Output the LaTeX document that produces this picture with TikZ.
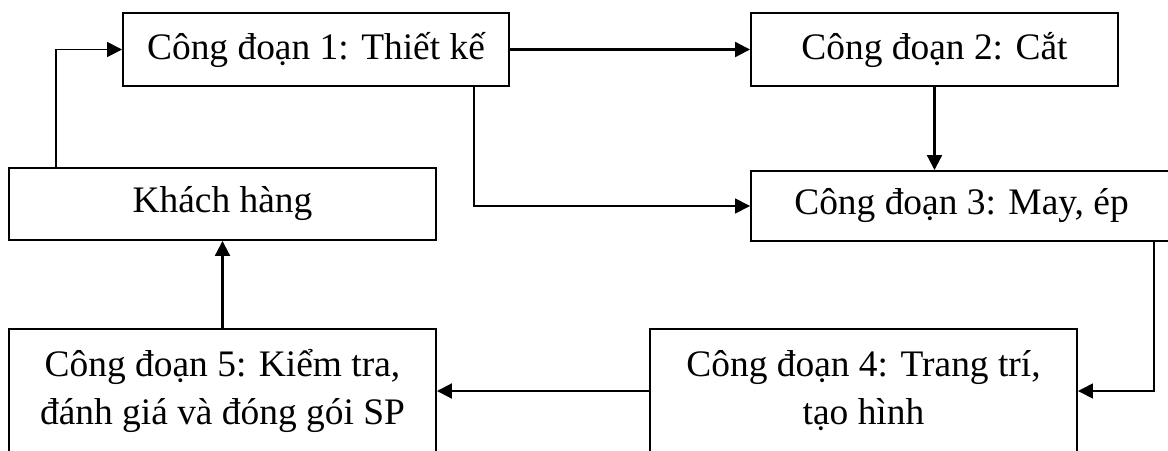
\documentclass[tikz,border=0pt]{standalone}
\usepackage{fontspec}
\setmainfont{Liberation Serif}
\usepackage{tikz}
\usetikzlibrary{arrows.meta, positioning, calc}
\tikzset{
  stage/.style={
    rectangle, draw, line width=1.1pt, inner sep=0pt,
    align=center, font=\fontsize{21.3pt}{27.3pt}\selectfont
  },
  arr/.style={-{Triangle[length=0.3cm, width=0.3cm]}, line width=1.2pt},
  thinarr/.style={arr, line width=0.9pt}
}

\begin{document}
\begin{tikzpicture}

  \useasboundingbox (0,0) rectangle (23.36,-9);

  %% ── các công đoạn ────────────────────────────────────────
  \node[stage, minimum width=7.72cm, minimum height=1.46cm] (cd1)
       at (6.32,-0.99) {Công đoạn 1: Thiết kế};
  \node[stage, minimum width=7.34cm, minimum height=1.46cm] (cd2)
       at (18.69,-0.99) {Công đoạn 2: Cắt};
  \node[stage, minimum width=8.42cm, minimum height=1.40cm] (cd3)
       at (19.23,-4.12) {Công đoạn 3: May, ép};
  \node[stage, minimum width=8.54cm, minimum height=2.48cm] (cd4)
       at (17.27,-7.82) {Công đoạn 4: Trang trí,\\tạo hình};
  \node[stage, minimum width=8.54cm, minimum height=2.48cm] (cd5)
       at (4.45,-7.82) {Công đoạn 5: Kiểm tra,\\đánh giá và đóng gói SP};
  \node[stage, minimum width=8.54cm, minimum height=1.44cm] (khach)
       at (4.45,-4.08) {Khách hàng};

  %% ── mũi tên ──────────────────────────────────────────────
  \draw[arr] (cd1) -- (cd2);
  \draw[arr] (cd2.south) -- (cd2.south |- cd3.north);
  \draw[thinarr] ([xshift=-0.72cm]cd1.south east) |- (cd3.west);
  \draw[thinarr] ([xshift=-0.38cm]cd3.south east) |- (cd4.east);
  \draw[arr] (cd4) -- (cd5);
  \draw[arr] (cd5) -- (khach);
  \draw[thinarr] ([xshift=0.96cm]khach.north west) |- (cd1.west);

\end{tikzpicture}
\end{document}
